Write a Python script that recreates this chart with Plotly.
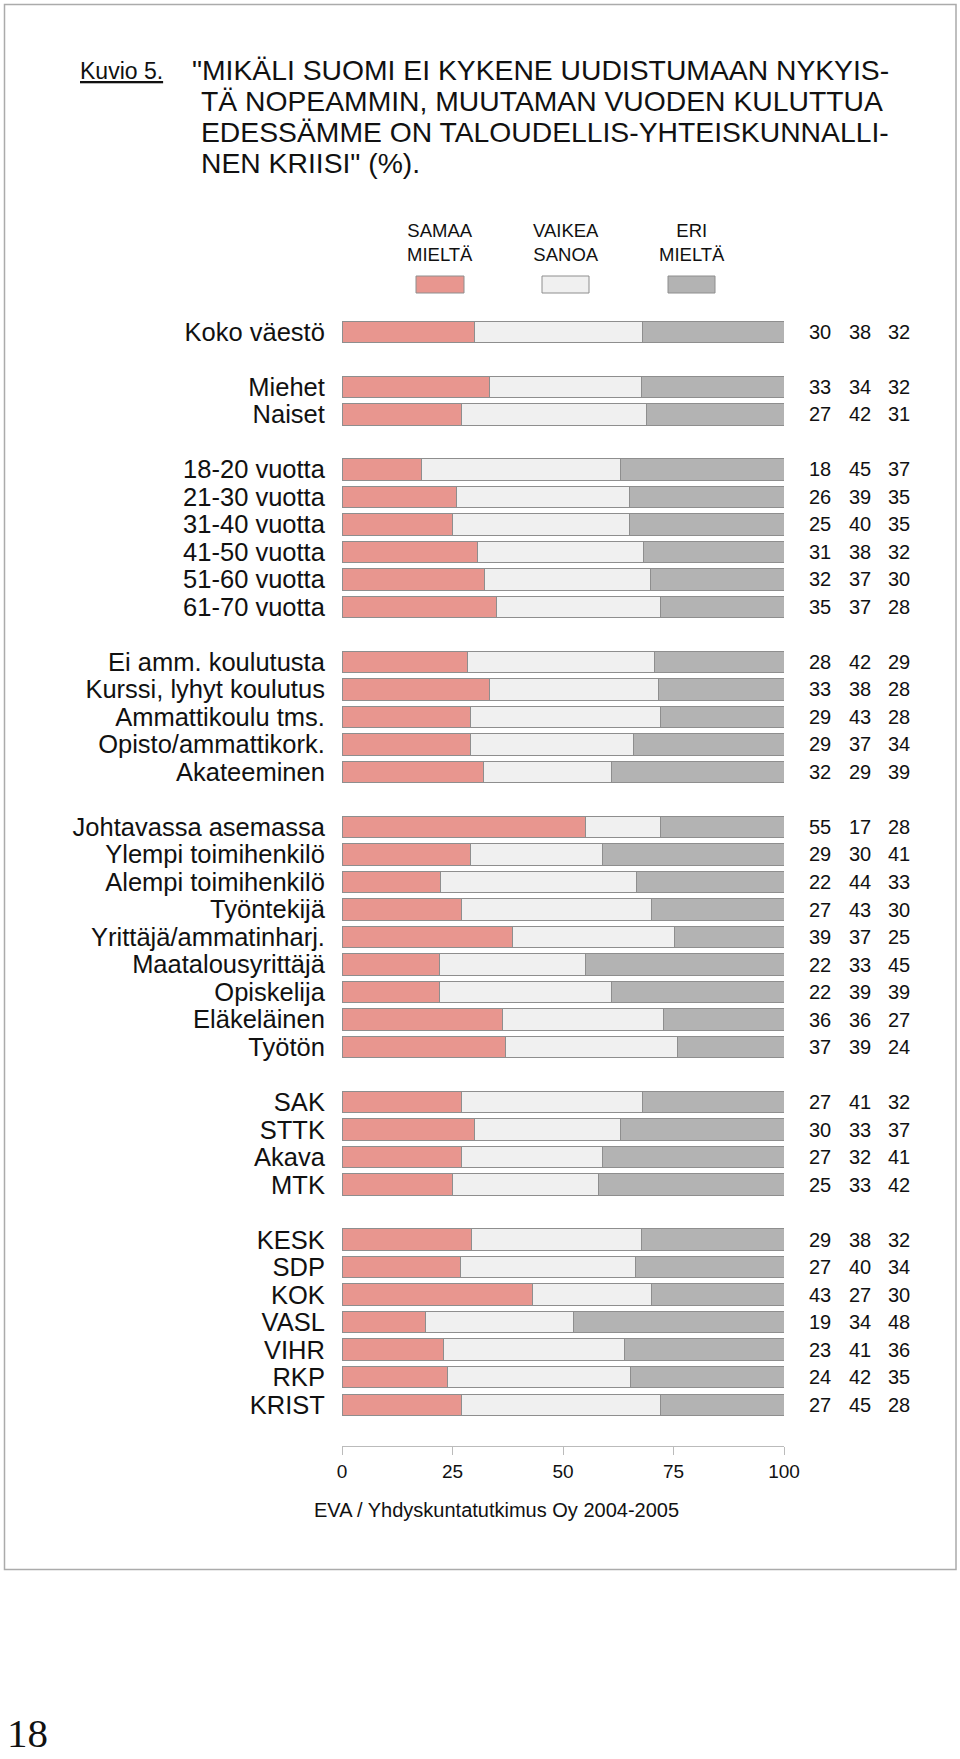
import plotly.graph_objects as go

# ---------------- data ----------------
categories = [
    "Koko väestö",
    "Miehet", "Naiset",
    "18-20 vuotta", "21-30 vuotta", "31-40 vuotta", "41-50 vuotta", "51-60 vuotta", "61-70 vuotta",
    "Ei amm. koulutusta", "Kurssi, lyhyt koulutus", "Ammattikoulu tms.", "Opisto/ammattikork.", "Akateeminen",
    "Johtavassa asemassa", "Ylempi toimihenkilö", "Alempi toimihenkilö", "Työntekijä",
    "Yrittäjä/ammatinharj.", "Maatalousyrittäjä", "Opiskelija", "Eläkeläinen", "Työtön",
    "SAK", "STTK", "Akava", "MTK",
    "KESK", "SDP", "KOK", "VASL", "VIHR", "RKP", "KRIST",
]
group_sizes = [1, 2, 6, 5, 9, 4, 7]

samaa = [30, 33, 27, 18, 26, 25, 31, 32, 35, 28, 33, 29, 29, 32,
         55, 29, 22, 27, 39, 22, 22, 36, 37, 27, 30, 27, 25,
         29, 27, 43, 19, 23, 24, 27]
vaikea = [38, 34, 42, 45, 39, 40, 38, 37, 37, 42, 38, 43, 37, 29,
          17, 30, 44, 43, 37, 33, 39, 36, 39, 41, 33, 32, 33,
          38, 40, 27, 34, 41, 42, 45]
eri = [32, 32, 31, 37, 35, 35, 32, 30, 28, 29, 28, 28, 34, 39,
       28, 41, 33, 30, 25, 45, 39, 27, 24, 32, 37, 41, 42,
       32, 34, 30, 48, 36, 35, 28]

series_names = ["SAMAA<br>MIELTÄ", "VAIKEA<br>SANOA", "ERI<br>MIELTÄ"]
series_colors = ["#E8968F", "#F0F0F0", "#B3B3B3"]
x_ticks = [0, 25, 50, 75, 100]

title_lines = [
    '"MIKÄLI SUOMI EI KYKENE UUDISTUMAAN NYKYIS-',
    "TÄ NOPEAMMIN, MUUTAMAN VUODEN KULUTTUA",
    "EDESSÄMME ON TALOUDELLIS-YHTEISKUNNALLI-",
    'NEN KRIISI" (%).',
]
source_text = "EVA / Yhdyskuntatutkimus Oy 2004-2005"

# ---------------- layout helpers ----------------
W, H = 960, 1759
PL, PR, PT, PB = 342, 784, 318, 1446  # plot area in pixels

def px(xp):
    return (xp - PL) / (PR - PL)

def py(yp):
    return (PB - yp) / (PB - PT)

# slot positions: one empty slot between groups
ypos = []
slot = 0
for g in group_sizes:
    for _ in range(g):
        ypos.append(slot)
        slot += 1
    slot += 1
n_slots = slot - 1

FONT = "Liberation Sans, Arial, Helvetica, sans-serif"
LINE = "#8E8E8E"

fig = go.Figure()
for vals, name, col in zip([samaa, vaikea, eri], series_names, series_colors):
    fig.add_trace(go.Bar(
        y=ypos, x=vals, orientation="h", name=name,
        marker=dict(color=col, line=dict(color=LINE, width=1)),
        width=0.78, showlegend=False, hoverinfo="x+name",
    ))

annotations = []
# value columns
col_x = [820, 859.5, 898.5]
for vals, cx in zip([samaa, vaikea, eri], col_x):
    for yv, v in zip(ypos, vals):
        annotations.append(dict(
            xref="paper", yref="y", x=px(cx), y=yv, text=str(v),
            showarrow=False, xanchor="center", yanchor="middle",
            font=dict(family=FONT, size=20, color="#111111"),
        ))

# legend (manual: label above swatch)
sw_x = [(416, 464), (542, 589), (668, 715)]
shapes = []
for (x0, x1), name, col in zip(sw_x, series_names, series_colors):
    annotations.append(dict(
        xref="paper", yref="paper", x=px((x0 + x1) / 2), y=py(242), text=name,
        showarrow=False, xanchor="center", yanchor="middle", align="center",
        font=dict(family=FONT, size=18.5, color="#111111"),
    ))
    shapes.append(dict(
        type="rect", xref="paper", yref="paper",
        x0=px(x0), x1=px(x1), y0=py(293), y1=py(276),
        fillcolor=col, line=dict(color=LINE, width=1),
    ))

# title
annotations.append(dict(
    xref="paper", yref="paper", x=px(78), y=py(70.5), text="<u>Kuvio 5.</u>",
    showarrow=False, xanchor="left", yanchor="middle",
    font=dict(family=FONT, size=23, color="#111111"),
))
title_y = [70, 101, 132.5, 163.5]
for i, (line, ty) in enumerate(zip(title_lines, title_y)):
    annotations.append(dict(
        xref="paper", yref="paper", x=px(190 if i == 0 else 199), y=py(ty), text=line,
        showarrow=False, xanchor="left", yanchor="middle",
        font=dict(family=FONT, size=28.3, color="#111111"),
    ))

# source
annotations.append(dict(
    xref="paper", yref="paper", x=px(496), y=py(1510), text=source_text,
    showarrow=False, xanchor="center", yanchor="middle",
    font=dict(family=FONT, size=20, color="#111111"),
))
# page number
annotations.append(dict(
    xref="paper", yref="paper", x=px(5), y=py(1758), text="18",
    showarrow=False, xanchor="left", yanchor="bottom",
    font=dict(family="Liberation Serif, Times New Roman, serif", size=41, color="#111111"),
))

# frame
shapes.append(dict(
    type="rect", xref="paper", yref="paper",
    x0=px(4.5), x1=px(956), y0=py(1569.5), y1=py(4.5),
    line=dict(color="#ABABAB", width=1.5), fillcolor="rgba(0,0,0,0)", layer="below",
))

fig.update_layout(
    width=W, height=H,
    margin=dict(l=PL, r=W - PR, t=PT, b=H - PB, pad=0),
    barmode="stack", barnorm="percent",
    paper_bgcolor="white", plot_bgcolor="white",
    annotations=annotations, shapes=shapes,
    font=dict(family=FONT, color="#111111"),
    xaxis=dict(
        range=[0, 100], tickvals=x_ticks, showgrid=False, zeroline=False,
        showline=True, linecolor="#BBBBBB", linewidth=1,
        ticks="outside", ticklen=8, tickcolor="#BBBBBB",
        tickfont=dict(family=FONT, size=19, color="#111111"),
        fixedrange=True,
    ),
    yaxis=dict(
        range=[n_slots + 0.5, -0.5], tickvals=ypos, ticktext=categories,
        showgrid=False, zeroline=False, showline=False,
        ticks="outside", ticklen=11, tickcolor="rgba(0,0,0,0)",
        tickfont=dict(family=FONT, size=25.5, color="#111111"),
        fixedrange=True,
    ),
)

# the page's default 8px body margin would push the figure off the window edge
fig.write_html(
    "out.html",
    config={"displayModeBar": False},
    post_script="document.body.style.margin='0';",
)
